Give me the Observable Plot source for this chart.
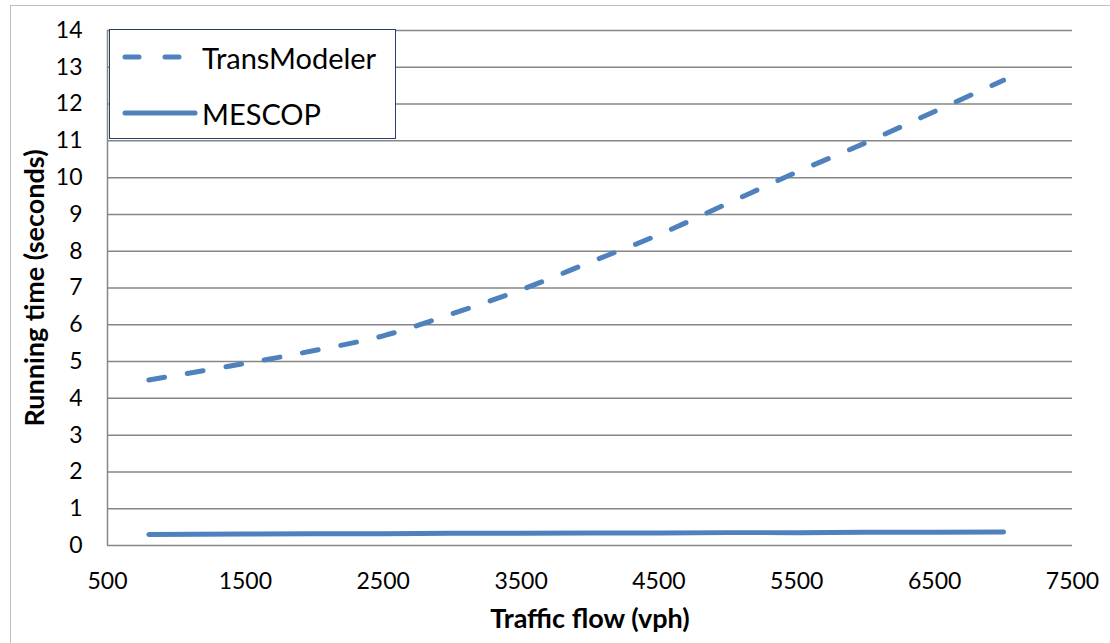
<!DOCTYPE html>
<html><head><meta charset="utf-8">
<script src="https://cdn.jsdelivr.net/npm/d3@7"></script>
<script src="https://cdn.jsdelivr.net/npm/@observablehq/plot@0.6"></script>
<style>
body{margin:0;background:#fff;font-family:Lato,sans-serif;}
#wrap{position:relative;width:1110px;height:643px;overflow:hidden;}
#frame{position:absolute;left:10px;top:5px;width:1200px;height:700px;border:1.5px solid #bfbfbf;pointer-events:none;}
#chart{position:absolute;left:0;top:0;}
#legend{position:absolute;left:109px;top:29px;width:287px;height:110px;border:1.5px solid #243f6b;background:#fff;box-sizing:border-box;}
.lrow{position:absolute;left:0;height:40px;display:flex;align-items:center;}
.lrow span{font-size:29px;color:#000;margin-left:2px;}
</style></head><body>
<div id="wrap"><div id="chart"></div><div id="frame"></div><div id="legend"></div></div>
<script>
const flow = [800, 1500, 2000, 2500, 3000, 3500, 4000, 4500, 5000, 5500, 6000, 6500, 7000];
const transModeler = [4.5, 4.95, 5.3, 5.7, 6.3, 6.95, 7.7, 8.45, 9.3, 10.15, 10.95, 11.8, 12.65];
const mescop = [0.3, 0.31, 0.32, 0.32, 0.33, 0.33, 0.34, 0.34, 0.35, 0.35, 0.36, 0.36, 0.37];
const seriesNames = ["TransModeler", "MESCOP"];
const xTicks = [500, 1500, 2500, 3500, 4500, 5500, 6500, 7500];
const yTicks = [0, 1, 2, 3, 4, 5, 6, 7, 8, 9, 10, 11, 12, 13, 14];
const xTitle = "Traffic flow (vph)";
const yTitle = "Running time (seconds)";

const color = "#4F81BD";
const dataT = flow.map((x, i) => ({x, y: transModeler[i]}));
const dataM = flow.map((x, i) => ({x, y: mescop[i]}));

const plot = Plot.plot({
  width: 1110,
  height: 643,
  marginLeft: 107,
  marginRight: 38,
  marginTop: 30,
  marginBottom: 98,
  style: {fontFamily: "Lato, sans-serif", background: "transparent"},
  x: {domain: [500, 7500], ticks: xTicks},
  y: {domain: [0, 14], ticks: yTicks},
  marks: [
    Plot.gridY(yTicks, {stroke: "#868686", strokeOpacity: 1, strokeWidth: 1.5}),
    Plot.ruleX([xTicks[0]], {stroke: "#868686", strokeWidth: 1.5}),
    Plot.axisX(xTicks, {tickSize: 0, tickPadding: 27, fontSize: 23, label: null, fill: "#000", tickFormat: d => String(d)}),
    Plot.axisY(yTicks, {tickSize: 0, tickPadding: 25, fontSize: 23, label: null, fill: "#000", tickFormat: d => String(d)}),
    Plot.line(dataT, {x: "x", y: "y", stroke: color, strokeWidth: 5, strokeDasharray: "16,23", strokeLinecap: "round", curve: "catmull-rom"}),
    Plot.line(dataM, {x: "x", y: "y", stroke: color, strokeWidth: 5, strokeLinecap: "round", curve: "linear"}),
    Plot.text([xTitle], {frameAnchor: "bottom", dy: 82, fontSize: 27, fontWeight: "bold", fill: "#000"}),
    Plot.text([yTitle], {frameAnchor: "left", textAnchor: "middle", dx: -72, rotate: -90, fontSize: 27, fontWeight: "bold", fill: "#000"})
  ]
});
document.getElementById("chart").appendChild(plot);

const legend = document.getElementById("legend");
const swatches = [
  `<svg width="90" height="40"><line x1="15" y1="20" x2="85" y2="20" stroke="${color}" stroke-width="5" stroke-linecap="round" stroke-dasharray="14,26"/></svg>`,
  `<svg width="90" height="40"><line x1="15" y1="20" x2="85" y2="20" stroke="${color}" stroke-width="5" stroke-linecap="round"/></svg>`
];
const tops = [7, 63];
seriesNames.forEach((name, i) => {
  const row = document.createElement("div");
  row.className = "lrow";
  row.style.top = tops[i] + "px";
  row.innerHTML = swatches[i] + `<span>${name}</span>`;
  legend.appendChild(row);
});
</script>
</body></html>
